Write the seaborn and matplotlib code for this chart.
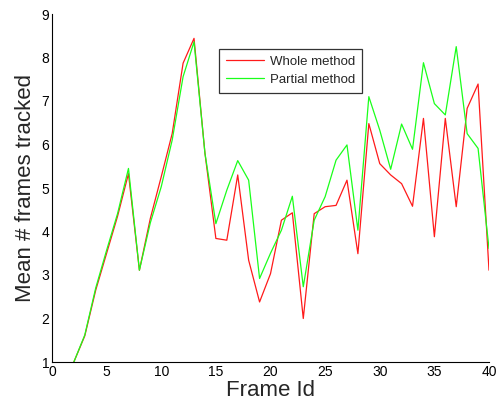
import matplotlib
matplotlib.use("Agg")
import matplotlib.pyplot as plt
import seaborn as sns
import pandas as pd

frame_id = list(range(2, 41))
whole_method = [1.0, 1.6, 2.65, 3.5, 4.35, 5.33, 3.11, 4.3, 5.26, 6.25, 7.87, 8.44,
                5.8, 3.84, 3.8, 5.3, 3.34, 2.38, 3.03, 4.26, 4.43, 2.0, 4.41, 4.57,
                4.6, 5.18, 3.49, 6.48, 5.56, 5.3, 5.1, 4.58, 6.6, 3.88, 6.6, 4.57,
                6.83, 7.39, 3.11]
partial_method = [1.0, 1.62, 2.7, 3.57, 4.41, 5.45, 3.11, 4.2, 5.03, 6.1, 7.56, 8.36,
                  5.8, 4.18, 4.95, 5.63, 5.18, 2.92, 3.5, 4.03, 4.81, 2.73, 4.26, 4.8,
                  5.64, 5.99, 4.03, 7.1, 6.33, 5.43, 6.47, 5.89, 7.88, 6.94, 6.68, 8.25,
                  6.25, 5.91, 3.61]
x_ticks = [0, 5, 10, 15, 20, 25, 30, 35, 40]
y_ticks = [1, 2, 3, 4, 5, 6, 7, 8, 9]

sns.set_theme(style="white")
plt.rcParams['font.family'] = ['Liberation Sans', 'DejaVu Sans']

df = pd.DataFrame({"frame": frame_id, "whole": whole_method, "partial": partial_method})

fig = plt.figure(figsize=(4.98, 4.08), dpi=100)
ax = fig.add_axes([52/498, 1 - 362/408, 437/498, 348/408])

sns.lineplot(data=df, x="frame", y="whole", color="#ff1a1a", lw=0.9, label="Whole method", ax=ax)
sns.lineplot(data=df, x="frame", y="partial", color="#1aff1a", lw=0.9, label="Partial method", ax=ax)

ax.set_xlim(0, 40)
ax.set_ylim(1, 9)
ax.set_xticks(x_ticks)
ax.set_yticks(y_ticks)
ax.tick_params(direction="in", length=4, width=0.8, labelsize=10, colors="black", pad=2)
for side in ["top", "right"]:
    ax.spines[side].set_visible(False)
for side in ["left", "bottom"]:
    ax.spines[side].set_color("black")
    ax.spines[side].set_linewidth(0.8)

ax.set_xlabel("Frame Id", fontsize=16, labelpad=1)
ax.set_ylabel("Mean # frames tracked", fontsize=16, labelpad=4)

leg = ax.legend(loc="upper left", bbox_to_anchor=(167/437, 1 - 35/348), fontsize=9.5,
                frameon=True, fancybox=False, framealpha=1, edgecolor="#333333",
                borderpad=0.5, handlelength=2.9, handletextpad=0.5,
                labelspacing=0.45, borderaxespad=0)
leg.get_frame().set_linewidth(0.9)

fig.savefig("out.png", dpi=100)
